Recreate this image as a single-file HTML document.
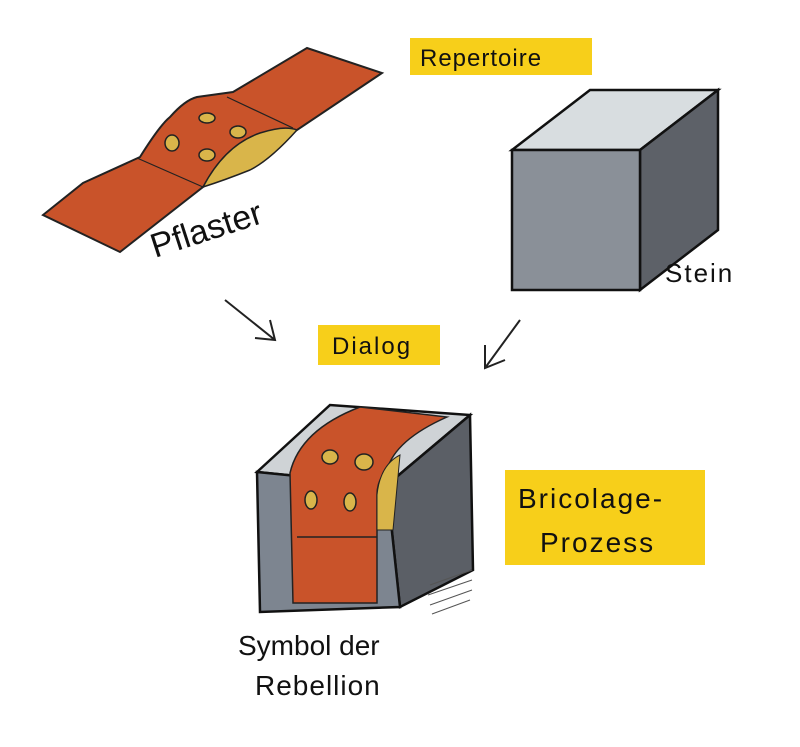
<!DOCTYPE html>
<html><head><meta charset="utf-8"><style>
html,body{margin:0;padding:0;background:#fff}
svg{display:block}
text{font-family:"Liberation Sans",sans-serif;fill:#111}
</style></head><body>
<svg width="800" height="747" viewBox="0 0 800 747" xmlns="http://www.w3.org/2000/svg">
<rect width="800" height="747" fill="#fff"/>
<rect x="410" y="38" width="182" height="37" fill="#f7cf1a"/>
<text x="420" y="66" font-size="24" letter-spacing="1">Repertoire</text>
<path d="M43,215 L83,183 L140,157 Q160,125 170,117 Q185,100 197,97 L233,92 L307,48 L382,73 L297,130 Q240,150 203,187 L120,252 Z" fill="#c9532a" stroke="#222" stroke-width="2"/>
<path d="M203,187 Q225,145 260,133 Q285,125 297,130 Q270,160 250,170 Q225,180 203,187 Z" fill="#d9b54a" stroke="#222" stroke-width="1.5"/>
<line x1="137" y1="158" x2="203" y2="187" stroke="#222" stroke-width="1.2"/>
<line x1="227" y1="97" x2="293" y2="128" stroke="#222" stroke-width="1.2"/>
<g fill="#d9b54a" stroke="#222" stroke-width="1.5">
<ellipse cx="207" cy="118" rx="8" ry="5"/><ellipse cx="172" cy="143" rx="7" ry="8"/>
<ellipse cx="238" cy="132" rx="8" ry="6"/><ellipse cx="207" cy="155" rx="8" ry="6"/>
</g>
<text x="155" y="258" font-size="34" transform="rotate(-18 155 258)">Pflaster</text>
<polygon points="512,150 590,90 718,90 640,150" fill="#d8dde0" stroke="#111" stroke-width="2.5"/>
<polygon points="640,150 718,90 718,230 640,290" fill="#5d6168" stroke="#111" stroke-width="2.5"/>
<rect x="512" y="150" width="128" height="140" fill="#8a9098" stroke="#111" stroke-width="2.5"/>
<text x="665" y="282" font-size="26" letter-spacing="2">Stein</text>
<g stroke="#222" stroke-width="2" fill="none">
<path d="M225,300 L275,340 M255,338 L275,340 L270,320"/>
<path d="M520,320 L485,368 M485,345 L485,368 L505,360"/>
</g>
<rect x="318" y="325" width="122" height="40" fill="#f7cf1a"/>
<text x="332" y="354" font-size="24" letter-spacing="2">Dialog</text>
<polygon points="257,472 330,405 470,415 387,485" fill="#cfd3d6" stroke="#111" stroke-width="2.5"/>
<polygon points="387,485 470,415 473,570 400,607" fill="#5b5f66" stroke="#111" stroke-width="2.5"/>
<polygon points="257,472 387,485 400,607 260,612" fill="#7d8590" stroke="#111" stroke-width="2.5"/>
<path d="M290,473 Q300,430 360,407 L447,417 Q395,440 387,470 Q377,480 377,495 L377,603 L293,603 Z" fill="#c9532a" stroke="#222" stroke-width="1.5"/>
<path d="M377,495 Q380,465 400,455 L393,530 L377,530 Z" fill="#d9b54a" stroke="#222" stroke-width="1"/>
<line x1="297" y1="537" x2="377" y2="537" stroke="#222" stroke-width="1.5"/>
<g fill="#d9b54a" stroke="#222" stroke-width="1.5">
<ellipse cx="330" cy="457" rx="8" ry="7"/><ellipse cx="364" cy="462" rx="9" ry="8"/>
<ellipse cx="311" cy="500" rx="6" ry="9"/><ellipse cx="350" cy="502" rx="6" ry="9"/>
</g>
<g stroke="#555" stroke-width="1">
<line x1="430" y1="585" x2="472" y2="570"/><line x1="428" y1="595" x2="472" y2="580"/><line x1="430" y1="605" x2="472" y2="590"/><line x1="432" y1="614" x2="470" y2="600"/>
</g>
<rect x="505" y="470" width="200" height="95" fill="#f7cf1a"/>
<text x="518" y="508" font-size="28" letter-spacing="2">Bricolage-</text>
<text x="540" y="552" font-size="28" letter-spacing="2">Prozess</text>
<text x="238" y="655" font-size="28">Symbol der</text>
<text x="255" y="695" font-size="28" letter-spacing="1">Rebellion</text>
</svg>
</body></html>
